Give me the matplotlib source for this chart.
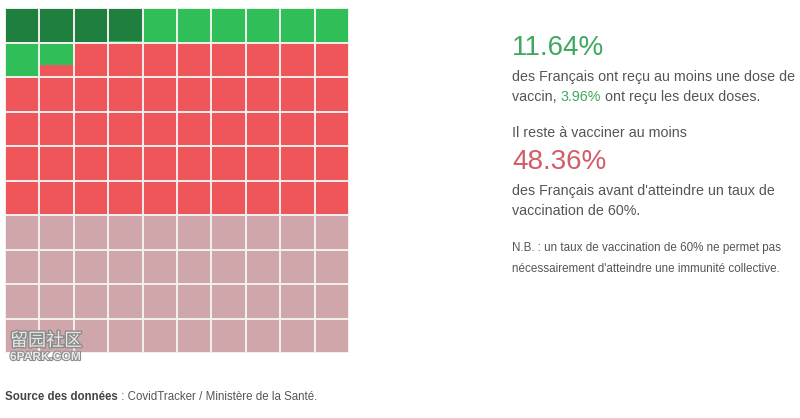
import matplotlib
matplotlib.use("Agg")
import matplotlib.pyplot as plt
import matplotlib.patheffects as pe
from matplotlib.patches import Rectangle

# vaccination shares (% of population), filled in this order
categories = ["Deux doses", "Une dose", "Reste jusqu'à 60%", "Au-delà de 60%"]
shares = [3.96, 7.68, 48.36, 40.00]
colors = ["#1f7f3f", "#2fbe58", "#ef5659", "#cfa7ab"]

first_dose = 11.64
full_dose = 3.96
remaining = 48.36
target = 60

n_rows, n_cols = 10, 10

plt.rcParams["font.family"] = ["Liberation Sans", "DejaVu Sans"]

W, H = 800, 418
fig = plt.figure(figsize=(W / 100, H / 100), dpi=100)

# waffle grid
ax = fig.add_axes([5 / W, (H - 353) / H, 344 / W, 345 / H])
ax.set_xlim(0, n_cols)
ax.set_ylim(n_rows, 0)
ax.axis("off")

bounds = []
start = 0
for s in shares:
    bounds.append((start, start + s))
    start += s

for i in range(n_rows * n_cols):
    r, c = divmod(i, n_cols)
    y = r
    for (lo, hi), col in zip(bounds, colors):
        frac = max(0, min(hi, i + 1) - max(lo, i))
        if frac <= 0:
            continue
        ax.add_patch(Rectangle((c, y), 1, frac, facecolor=col, edgecolor="none"))
        y += frac

for k in range(n_cols + 1):
    ax.axvline(k, color="#f4f0f0", lw=1.4)
for k in range(n_rows + 1):
    ax.axhline(k, color="#f4f0f0", lw=1.4)

# watermark
fig.text(10 / W, 1 - 346 / H, "留园社区", fontsize=13, color="#e8e8e8",
         family=["Noto Sans CJK SC", "DejaVu Sans"], va="baseline",
         path_effects=[pe.withStroke(linewidth=2, foreground="#8a8a8a")])
fig.text(10 / W, 1 - 360 / H, "6PARK.COM", fontsize=8.6, color="#e8e8e8", weight="bold",
         va="baseline",
         path_effects=[pe.withStroke(linewidth=1.5, foreground="#8a8a8a")])

renderer = fig.canvas.get_renderer()
body = "#555555"
green = "#3fa85e"
red = "#d05c66"


def line(x, y, parts, size):
    # parts: list of (text, color, weight) drawn side by side
    for txt, col, wt in parts:
        t = fig.text(x / W, 1 - y / H, txt, fontsize=size, color=col, weight=wt, va="baseline")
        bb = t.get_window_extent(renderer)
        x += bb.width


x0 = 512
fs = 10.3
line(x0, 55, [(f"{first_dose:.2f}%", green, "normal")], 20)
line(x0, 81, [("des Français ont reçu au moins une dose de", body, "normal")], fs)
line(x0, 101, [("vaccin, ", body, "normal"), (f"{full_dose:.2f}%", green, "normal"),
               (" ont reçu les deux doses.", body, "normal")], fs)
line(x0, 137, [("Il reste à vacciner au moins", body, "normal")], fs)
line(x0, 169, [(f"{remaining:.2f}%", red, "normal")], 20)
line(x0, 195, [("des Français avant d'atteindre un taux de", body, "normal")], fs)
line(x0, 215, [(f"vaccination de {target}%.", body, "normal")], fs)
line(x0, 251, [(f"N.B. : un taux de vaccination de {target}% ne permet pas", body, "normal")], 8.35)
line(x0, 272, [("nécessairement d'atteindre une immunité collective.", body, "normal")], 8.35)

line(5, 400, [("Source des données", "#444444", "bold"),
              (" : CovidTracker / Ministère de la Santé.", body, "normal")], 8.3)

fig.savefig("out.png", dpi=100, facecolor="white")
